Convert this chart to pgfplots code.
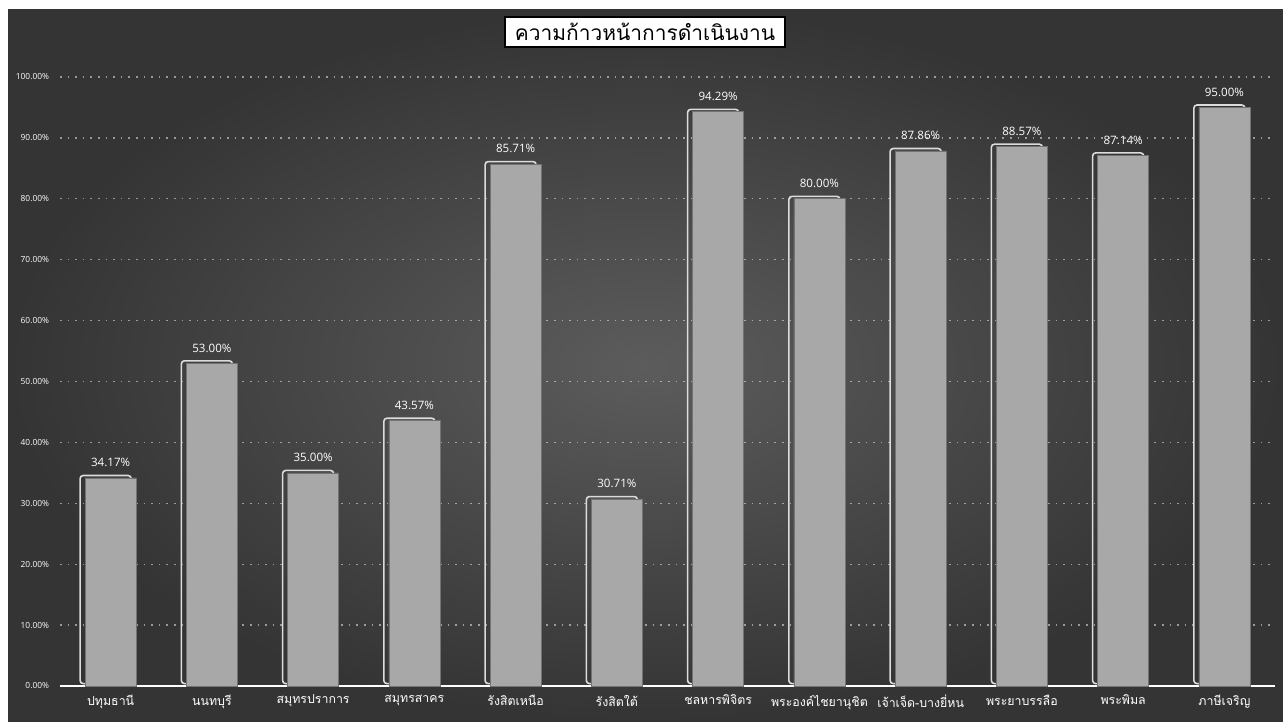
\documentclass[border=0pt]{standalone}
\usepackage{pgfplots}
\pgfplotsset{compat=1.18}
\usepackage{fontspec}
\setmainfont{Open Sans}
\newfontfamily\thaifont[Script=Thai]{Loma}

\definecolor{bgmid}{RGB}{92,92,92}
\definecolor{bgedge}{RGB}{52,52,52}
\definecolor{barfill}{RGB}{168,168,168}
\definecolor{bevel}{RGB}{220,220,220}

\begin{document}
\begin{tikzpicture}
\useasboundingbox (0,0) rectangle (641.5bp,361bp);
\fill[white] (0,0) rectangle (641.5bp,361bp);
\shade[inner color=bgmid, outer color=bgedge] (4bp,0) rectangle (641.5bp,356bp);
\begin{axis}[
    at={(30bp,18bp)}, anchor=south west,
    scale only axis,
    width=607.5bp, height=304.5bp,
    xmin=-0.5, xmax=11.5,
    ymin=0, ymax=100,
    axis x line=bottom, axis y line=left,
    x axis line style={-, draw=white!85, line width=0.8pt},
    y axis line style={draw=none},
    major tick length=0pt,
    /pgf/number format/assume math mode=true,
    xtick={0,1,2,3,4,5,6,7,8,9,10,11},
    xticklabels={ปทุมธานี,นนทบุรี,สมุทรปราการ,สมุทรสาคร,รังสิตเหนือ,รังสิตใต้,ชลหารพิจิตร,พระองค์ไชยานุชิต,เจ้าเจ็ด-บางยี่หน,พระยาบรรลือ,พระพิมล,ภาษีเจริญ},
    xticklabel style={font=\thaifont\fontsize{6.2}{7}\selectfont, text=white!92, yshift=-1bp},
    ytick={0,10,20,30,40,50,60,70,80,90,100},
    yticklabel={\pgfmathprintnumber[fixed,zerofill,precision=2]{\tick}\%},
    yticklabel style={font=\fontsize{4.2}{5}\selectfont, text=white!80, xshift=-2bp},
    ymajorgrids,
    grid style={draw=white, opacity=0.5, line width=0.7pt, dash pattern=on 0.8bp off 3bp},
    clip=false,
]
% bevel edge behind each bar
\addplot[ybar, bar width=25.5bp, bar shift=-2.5bp, draw=bevel, fill=none,
    line width=0.8pt, rounded corners=1.5bp, yshift=1.2bp]
    coordinates {(0,34.17) (1,53.00) (2,35.00) (3,43.57) (4,85.71) (5,30.71)
                 (6,94.29) (7,80.00) (8,87.86) (9,88.57) (10,87.14) (11,95.00)};
% bars
\addplot[ybar, bar width=25.5bp, fill=barfill, draw=black!55, line width=0.3pt,
    nodes near coords={\pgfmathprintnumber[fixed,zerofill,precision=2]{\pgfplotspointmeta}\%},
    every node near coord/.append style={font=\fontsize{5.8}{7}\selectfont, text=white!95, yshift=2bp}]
    coordinates {(0,34.17) (1,53.00) (2,35.00) (3,43.57) (4,85.71) (5,30.71)
                 (6,94.29) (7,80.00) (8,87.86) (9,88.57) (10,87.14) (11,95.00)};
\end{axis}
\node[fill=white, draw=black, line width=0.6pt, text=black, inner sep=0pt,
      minimum width=140bp, minimum height=15bp,
      font=\thaifont\fontsize{10.5}{12}\selectfont] at (322.5bp,345bp) {ความก้าวหน้าการดำเนินงาน};
\end{tikzpicture}
\end{document}
